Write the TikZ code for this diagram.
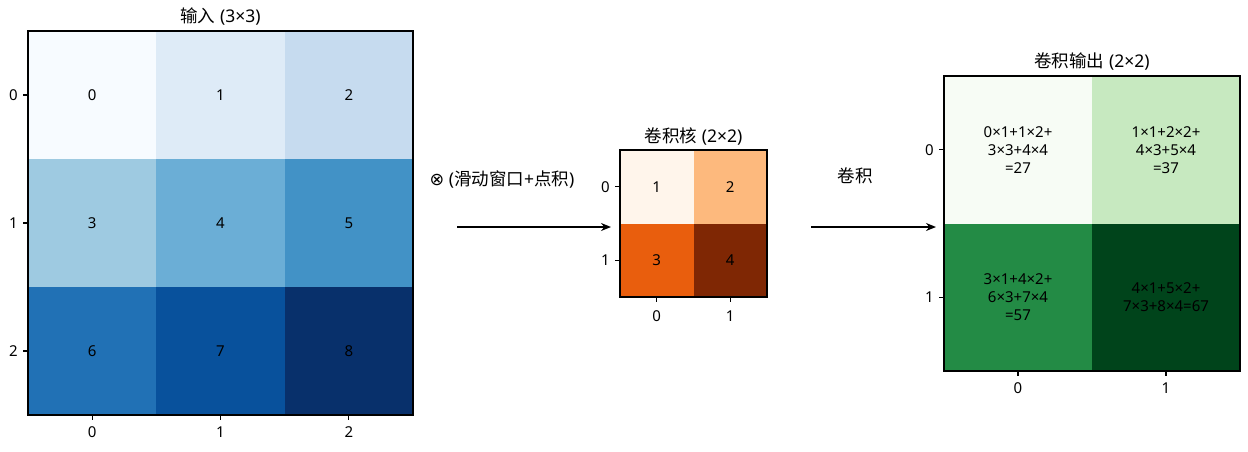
\documentclass[tikz,border=0pt]{standalone}
\usepackage{fontspec}
\setmainfont{Noto Sans}
\newfontfamily\cjk{Noto Sans CJK SC}
\newfontfamily\symfont{DejaVu Sans}
\usetikzlibrary{arrows.meta}
\definecolor{b0}{HTML}{F7FBFF}
\definecolor{b1}{HTML}{DEEBF7}
\definecolor{b2}{HTML}{C6DBEF}
\definecolor{b3}{HTML}{9ECAE1}
\definecolor{b4}{HTML}{6BAED6}
\definecolor{b5}{HTML}{4292C6}
\definecolor{b6}{HTML}{2171B5}
\definecolor{b7}{HTML}{08519C}
\definecolor{b8}{HTML}{08306B}
\definecolor{o1}{HTML}{FFF5EB}
\definecolor{o2}{HTML}{FDB97D}
\definecolor{o3}{HTML}{E95E0D}
\definecolor{o4}{HTML}{7F2704}
\definecolor{g1}{HTML}{F7FCF5}
\definecolor{g2}{HTML}{C7E9C0}
\definecolor{g3}{HTML}{238B45}
\definecolor{g4}{HTML}{00441B}
\begin{document}
\begin{tikzpicture}[x=1pt,y=-1pt,
 frame/.style={draw=black,line width=1.1pt,fill=none},
 tickmark/.style={line width=1.1pt},
 ticklab/.style={font=\fontsize{15}{18}\selectfont,inner sep=0pt},
 titlelab/.style={font=\fontsize{17.5}{21}\selectfont,inner sep=0pt},
 cell/.style={font=\fontsize{15}{18}\selectfont,inner sep=0pt,align=center},
 arr/.style={line width=2.4pt,-{Stealth[length=10pt,width=8pt]}}]
\useasboundingbox (0,0) rectangle (1248,452);
\fill[white] (0,0) rectangle (1248,452);

% ---------- input 3x3 ----------
\foreach \r in {0,1,2} {
  \foreach \c in {0,1,2} {
    \pgfmathtruncatemacro\v{3*\r+\c}
    \fill[b\v] ({28+128.33*\c},{31+128*\r}) rectangle ++(128.34,128);
    \node[cell] (in\v) at ({92.17+128.33*\c},{95+128*\r}) {\v};
  }
}
\draw[frame] (28,31) rectangle (413,415);
\foreach \i in {0,1,2} {
  \draw[tickmark] ({92.17+128.33*\i},415) -- ++(0,5);
  \node[ticklab] (inx\i) at ({92.17+128.33*\i},432) {\i};
  \draw[tickmark] (28,{95+128*\i}) -- ++(-5,0);
  \node[ticklab,anchor=east] (iny\i) at (18,{95+128*\i}) {\i};
}
\node[titlelab] (intitle) at (220.5,17) {{\cjk 输入} (3×3)};

% ---------- kernel 2x2 ----------
\fill[o1] (620,150) rectangle (693.5,223.5);
\fill[o2] (693.5,150) rectangle (767,223.5);
\fill[o3] (620,223.5) rectangle (693.5,297);
\fill[o4] (693.5,223.5) rectangle (767,297);
\node[cell] (k1) at (656.75,186.75) {1};
\node[cell] (k2) at (730.25,186.75) {2};
\node[cell] (k3) at (656.75,260.25) {3};
\node[cell] (k4) at (730.25,260.25) {4};
\draw[frame] (620,150) rectangle (767,297);
\foreach \i in {0,1} {
  \draw[tickmark] ({656.75+73.5*\i},297) -- ++(0,5);
  \node[ticklab] (kx\i) at ({656.75+73.5*\i},316) {\i};
  \draw[tickmark] (620,{186.75+73.5*\i}) -- ++(-5,0);
  \node[ticklab,anchor=east] (ky\i) at (610,{186.75+73.5*\i}) {\i};
}
\node[titlelab] (ktitle) at (693.5,136) {{\cjk 卷积核} (2×2)};

% ---------- output 2x2 ----------
\fill[g1] (944,76) rectangle (1092,223.5);
\fill[g2] (1092,76) rectangle (1240,223.5);
\fill[g3] (944,223.5) rectangle (1092,371);
\fill[g4] (1092,223.5) rectangle (1240,371);
\node[cell] (o1n) at (1018,149.75) {0×1+1×2+\\3×3+4×4\\=27};
\node[cell] (o2n) at (1166,149.75) {1×1+2×2+\\4×3+5×4\\=37};
\node[cell] (o3n) at (1018,297.25) {3×1+4×2+\\6×3+7×4\\=57};
\node[cell] (o4n) at (1166,297.25) {4×1+5×2+\\7×3+8×4=67};
\draw[frame] (944,76) rectangle (1240,371);
\foreach \i in {0,1} {
  \draw[tickmark] ({1018+148*\i},371) -- ++(0,5);
  \node[ticklab] (ox\i) at ({1018+148*\i},388) {\i};
  \draw[tickmark] (944,{149.75+147.5*\i}) -- ++(-5,0);
  \node[ticklab,anchor=east] (oy\i) at (934,{149.75+147.5*\i}) {\i};
}
\node[titlelab] (otitle) at (1092,62) {{\cjk 卷积输出} (2×2)};

% ---------- arrows ----------
\coordinate (a1s) at (457,227);
\coordinate (a1e) at (611,227);
\draw[arr] (a1s) -- (a1e);
\node[titlelab] (a1lab) at (502,179) {{\symfont ⊗} ({\cjk 滑动窗口}+{\cjk 点积})};
\coordinate (a2s) at (811,227);
\coordinate (a2e) at (936,227);
\draw[arr] (a2s) -- (a2e);
\node[titlelab] (a2lab) at (855,176) {\cjk 卷积};
\end{tikzpicture}
\end{document}
